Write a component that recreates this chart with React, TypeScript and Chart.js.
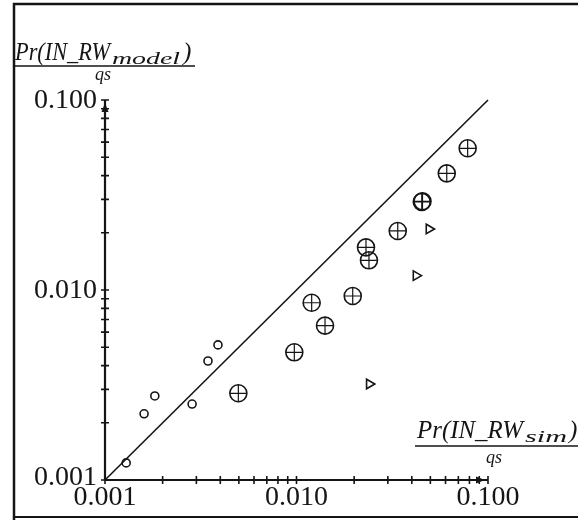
import React, { useEffect, useRef } from "react";
import { Chart, registerables } from "chart.js";

Chart.register(...registerables);

// y = x reference line
const lineX = [0.001, 0.1];
const lineY = [0.001, 0.1];

// small open circles
const circleX = [0.00129, 0.0016, 0.00182, 0.00285, 0.00345, 0.00389];
const circleY = [0.00123, 0.00223, 0.00277, 0.00251, 0.00423, 0.00514];

// circle-plus markers
const plusX = [0.00497, 0.00974, 0.012, 0.01409, 0.01966, 0.02306, 0.0239, 0.03378, 0.0451, 0.0455, 0.0609, 0.0783];
const plusY = [0.00286, 0.0047, 0.00857, 0.00649, 0.0093, 0.01677, 0.01433, 0.02045, 0.0291, 0.0293, 0.0411, 0.0557];

// right-pointing triangles
const triX = [0.024, 0.0421, 0.0492];
const triY = [0.0032, 0.0119, 0.02095];

// axis ticks
const majorTicks = [0.001, 0.01, 0.1];
const tickLabels = ["0.001", "0.010", "0.100"];
const minorTicks = [
  0.002, 0.003, 0.004, 0.005, 0.006, 0.007, 0.008, 0.009,
  0.02, 0.03, 0.04, 0.05, 0.06, 0.07, 0.08, 0.09,
];

const xTitleMain = "Pr(IN_RW";
const xTitleSub = "sim";
const yTitleMain = "Pr(IN_RW";
const yTitleSub = "model";
const titleDen = "qs";

const INK = "#151515";

function fitText(ctx: CanvasRenderingContext2D, text: string, font: string, x: number, y: number, width: number) {
  ctx.save();
  ctx.font = font;
  ctx.textAlign = "left";
  ctx.textBaseline = "alphabetic";
  const w = ctx.measureText(text).width;
  ctx.translate(x, y);
  ctx.scale(width / w, 1);
  ctx.fillText(text, 0, 0);
  ctx.restore();
}

const axesPlugin = {
  id: "axesPlugin",
  afterDraw(chart: any) {
    const ctx: CanvasRenderingContext2D = chart.ctx;
    const xs = chart.scales.x;
    const ys = chart.scales.y;
    const x0 = xs.getPixelForValue(0.001);
    const x1 = xs.getPixelForValue(0.1);
    const y0 = ys.getPixelForValue(0.001);
    const y1 = ys.getPixelForValue(0.1);
    ctx.save();
    ctx.strokeStyle = INK;
    ctx.fillStyle = INK;

    // outer frame
    ctx.lineWidth = 2.5;
    ctx.beginPath();
    ctx.moveTo(14, 520);
    ctx.lineTo(14, 4);
    ctx.lineTo(580, 4);
    ctx.stroke();
    ctx.lineWidth = 2.2;
    ctx.beginPath();
    ctx.moveTo(14, 517);
    ctx.lineTo(580, 517);
    ctx.stroke();

    // axes
    ctx.lineWidth = 2.2;
    ctx.beginPath();
    ctx.moveTo(x0, y0);
    ctx.lineTo(x0, y1);
    ctx.moveTo(x0, y0);
    ctx.lineTo(x1, y0);
    ctx.stroke();

    // ticks (crossing the axis)
    ctx.lineWidth = 1.6;
    ctx.beginPath();
    [...minorTicks, ...majorTicks].forEach((v) => {
      const py = ys.getPixelForValue(v);
      ctx.moveTo(x0 - 4, py);
      ctx.lineTo(x0 + 4, py);
      const px = xs.getPixelForValue(v);
      ctx.moveTo(px, y0 - 4);
      ctx.lineTo(px, y0 + 4);
    });
    ctx.stroke();

    // arrow heads
    ctx.beginPath();
    ctx.moveTo(x0, y1 + 3);
    ctx.lineTo(x0 - 3.5, y1 + 12);
    ctx.lineTo(x0 + 3.5, y1 + 12);
    ctx.closePath();
    ctx.fill();
    ctx.beginPath();
    ctx.moveTo(x1 - 3, y0);
    ctx.lineTo(x1 - 12, y0 - 3.5);
    ctx.lineTo(x1 - 12, y0 + 3.5);
    ctx.closePath();
    ctx.fill();

    // tick labels
    ctx.font = "28px 'Liberation Serif', serif";
    majorTicks.forEach((v, i) => {
      ctx.textAlign = "right";
      ctx.textBaseline = "middle";
      ctx.fillText(tickLabels[i], x0 - 8, ys.getPixelForValue(v) + (i === 0 ? -2 : 1));
      ctx.textAlign = "center";
      ctx.fillText(tickLabels[i], xs.getPixelForValue(v), y0 + 18);
    });

    // y title (fraction)
    const it = "italic 25px 'Liberation Serif', serif";
    const its = "italic 16px 'Liberation Serif', serif";
    fitText(ctx, yTitleMain, it, 15, 60, 95);
    fitText(ctx, yTitleSub, its, 112, 64, 68);
    ctx.font = it;
    ctx.textAlign = "left";
    ctx.textBaseline = "alphabetic";
    ctx.fillText(")", 183, 60);
    ctx.lineWidth = 1.6;
    ctx.beginPath();
    ctx.moveTo(14, 66);
    ctx.lineTo(195, 66);
    ctx.stroke();
    ctx.font = "italic 18px 'Liberation Serif', serif";
    ctx.textAlign = "center";
    ctx.fillText(titleDen, 103, 80);

    // x title (fraction)
    fitText(ctx, xTitleMain, it, 417, 438, 106);
    fitText(ctx, xTitleSub, its, 525, 442, 42);
    ctx.font = it;
    ctx.textAlign = "left";
    ctx.fillText(")", 569, 438);
    ctx.beginPath();
    ctx.moveTo(415, 446);
    ctx.lineTo(580, 446);
    ctx.stroke();
    ctx.font = "italic 18px 'Liberation Serif', serif";
    ctx.textAlign = "center";
    ctx.fillText(titleDen, 494, 463);

    ctx.restore();
  },
};

const toPts = (xs: number[], ys: number[]) => xs.map((x, i) => ({ x, y: ys[i] }));

export default function App() {
  const ref = useRef<HTMLCanvasElement>(null);
  useEffect(() => {
    if (!ref.current) return;
    const chart = new Chart(ref.current, {
      type: "scatter",
      data: {
        datasets: [
          {
            type: "line",
            data: toPts(lineX, lineY),
            borderColor: INK,
            borderWidth: 1.6,
            pointRadius: 0,
            showLine: true,
            fill: false,
          } as any,
          {
            data: toPts(circleX, circleY),
            pointStyle: "circle",
            pointRadius: 4,
            borderColor: INK,
            backgroundColor: "rgba(0,0,0,0)",
            borderWidth: 1.6,
          },
          {
            data: toPts(plusX, plusY),
            pointStyle: "circle",
            pointRadius: 8.5,
            borderColor: INK,
            backgroundColor: "rgba(0,0,0,0)",
            borderWidth: 1.6,
          },
          {
            data: toPts(plusX, plusY),
            pointStyle: "cross",
            pointRadius: 8.5,
            borderColor: INK,
            borderWidth: 1.2,
          },
          {
            data: toPts(triX, triY),
            pointStyle: "triangle",
            pointRotation: 90,
            pointRadius: 5.5,
            borderColor: INK,
            backgroundColor: "rgba(0,0,0,0)",
            borderWidth: 1.6,
          },
        ],
      },
      options: {
        responsive: false,
        devicePixelRatio: 1,
        animation: false,
        clip: false as any,
        layout: { padding: { left: 105, top: 100, right: 90, bottom: 40 } },
        plugins: { legend: { display: false }, tooltip: { enabled: false } },
        scales: {
          x: { type: "logarithmic", min: 0.001, max: 0.1, display: false },
          y: { type: "logarithmic", min: 0.001, max: 0.1, display: false },
        },
      },
      plugins: [axesPlugin],
    });
    return () => chart.destroy();
  }, []);
  return (
    <div style={{ position: "fixed", left: 0, top: 0, width: 578, height: 520, background: "#fff" }}>
      <canvas ref={ref} width={578} height={520} style={{ display: "block" }} />
    </div>
  );
}
